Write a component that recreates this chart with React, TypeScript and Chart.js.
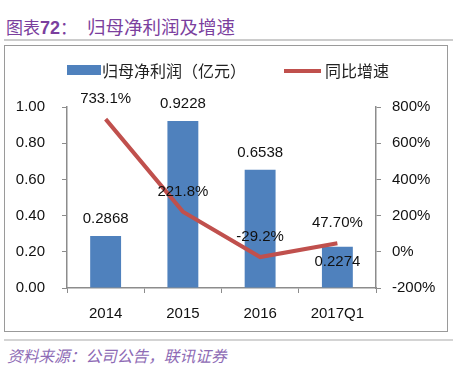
import React, { useEffect, useRef } from "react";
import { Chart, registerables } from "chart.js";

Chart.register(...registerables);

const categories = ["2014", "2015", "2016", "2017Q1"];
const profit = [0.2868, 0.9228, 0.6538, 0.2274];
const growth = [733.1, 221.8, -29.2, 47.7];
const profitLabels = ["0.2868", "0.9228", "0.6538", "0.2274"];
const growthLabels = ["733.1%", "221.8%", "-29.2%", "47.70%"];
const leftAxis = { min: 0, max: 1, step: 0.2 };
const rightAxis = { min: -200, max: 800, step: 200 };

const BAR_COLOR = "#4f81bd";
const LINE_COLOR = "#c0504d";
const AXIS_COLOR = "#8c8c8c";
const FONT = '"Liberation Sans", Arial, sans-serif';
const CJK = '"Noto Sans CJK SC", sans-serif';

const labelPlugin = {
  id: "valueLabels",
  afterDatasetsDraw(chart: any) {
    const ctx = chart.ctx;
    ctx.save();
    ctx.font = `15px ${FONT}`;
    ctx.fillStyle = "#111";
    ctx.textAlign = "center";
    ctx.textBaseline = "middle";
    const barMeta = chart.getDatasetMeta(0);
    barMeta.data.forEach((el: any, i: number) => {
      const inside = i === barMeta.data.length - 1;
      ctx.fillText(profitLabels[i], el.x, inside ? el.y + 15 : el.y - 17);
    });
    const lineMeta = chart.getDatasetMeta(1);
    lineMeta.data.forEach((el: any, i: number) => {
      ctx.fillText(growthLabels[i], el.x, el.y - 20);
    });
    ctx.restore();
  },
};

function ChartBox() {
  const ref = useRef<HTMLCanvasElement | null>(null);
  useEffect(() => {
    if (!ref.current) return;
    const chart = new Chart(ref.current, {
      type: "bar",
      data: {
        labels: categories,
        datasets: [
          {
            type: "bar",
            label: "归母净利润（亿元）",
            data: profit,
            backgroundColor: BAR_COLOR,
            yAxisID: "y",
            barPercentage: 0.8,
            categoryPercentage: 0.5,
            order: 1,
          },
          {
            type: "line",
            label: "同比增速",
            data: growth,
            borderColor: LINE_COLOR,
            backgroundColor: LINE_COLOR,
            borderWidth: 4,
            pointRadius: 0,
            tension: 0,
            yAxisID: "y1",
            order: 0,
          } as any,
        ],
      },
      options: {
        animation: false,
        responsive: false,
        maintainAspectRatio: false,
        layout: { padding: { top: 61, left: 0, right: 0, bottom: 0 } },
        plugins: {
          legend: { display: false },
          tooltip: { enabled: false },
          title: { display: false },
        },
        scales: {
          x: {
            grid: {
              display: true,
              drawOnChartArea: false,
              drawTicks: true,
              tickLength: 5,
              color: AXIS_COLOR,
              offset: true,
            },
            border: { display: true, color: AXIS_COLOR, width: 1.5 },
            ticks: { color: "#111", font: { size: 15, family: FONT }, padding: 12 },
            afterFit: (s: any) => {
              s.height = 43;
            },
          },
          y: {
            position: "left",
            min: leftAxis.min,
            max: leftAxis.max,
            grid: {
              display: true,
              drawOnChartArea: false,
              drawTicks: true,
              tickLength: 5,
              color: AXIS_COLOR,
            },
            border: { display: true, color: AXIS_COLOR, width: 1.5 },
            ticks: {
              stepSize: leftAxis.step,
              color: "#111",
              font: { size: 15, family: FONT },
              padding: 17,
              callback: (v: any) => Number(v).toFixed(2),
            },
            afterFit: (s: any) => {
              s.width = 62;
            },
          },
          y1: {
            position: "right",
            min: rightAxis.min,
            max: rightAxis.max,
            grid: {
              display: true,
              drawOnChartArea: false,
              drawTicks: true,
              tickLength: 5,
              color: AXIS_COLOR,
            },
            border: { display: true, color: AXIS_COLOR, width: 1.5 },
            ticks: {
              stepSize: rightAxis.step,
              color: "#111",
              font: { size: 15, family: FONT },
              padding: 11,
              callback: (v: any) => `${v}%`,
            },
            afterFit: (s: any) => {
              s.width = 71;
            },
          },
        },
      },
      plugins: [labelPlugin],
    });
    return () => chart.destroy();
  }, []);
  return <canvas ref={ref} width={442} height={285} style={{ display: "block", width: 442, height: 285 }} />;
}

export default function App() {
  return (
    <div
      style={{
        position: "absolute",
        left: 0,
        top: 0,
        width: 474,
        height: 373,
        background: "#fff",
        overflow: "hidden",
      }}
    >
      <div
        style={{
          position: "absolute",
          left: 6,
          top: 14,
          fontFamily: CJK,
          fontSize: 17,
          lineHeight: "24px",
          color: "#7b3f9e",
          whiteSpace: "nowrap",
        }}
      >
        <span>图表</span>
        <span style={{ fontFamily: FONT, fontWeight: "bold", fontSize: 18 }}>72</span>
        <span>：</span>
        <span style={{ marginLeft: 10, fontSize: 18.5 }}>归母净利润及增速</span>
      </div>
      <div style={{ position: "absolute", left: 4, top: 39, width: 449, height: 2, background: "#cccccc" }} />
      <div
        style={{
          position: "absolute",
          left: 4,
          top: 45,
          width: 442,
          height: 285,
          border: "1.5px solid #9a9a9a",
        }}
      >
        <ChartBox />
        <div style={{ position: "absolute", left: 62, top: 19, width: 34, height: 10, background: BAR_COLOR }} />
        <div
          style={{
            position: "absolute",
            left: 97,
            top: 12,
            fontFamily: CJK,
            fontSize: 16,
            lineHeight: "24px",
            color: "#222",
            whiteSpace: "nowrap",
          }}
        >
          归母净利润（亿元）
        </div>
        <div style={{ position: "absolute", left: 279, top: 23, width: 37, height: 4, background: LINE_COLOR }} />
        <div
          style={{
            position: "absolute",
            left: 320,
            top: 12,
            fontFamily: CJK,
            fontSize: 16,
            lineHeight: "24px",
            color: "#222",
            whiteSpace: "nowrap",
          }}
        >
          同比增速
        </div>
      </div>
      <div style={{ position: "absolute", left: 4, top: 339, width: 449, height: 2, background: "#d4d4d4" }} />
      <div
        style={{
          position: "absolute",
          left: 7,
          top: 345,
          fontFamily: CJK,
          fontSize: 15.7,
          lineHeight: "22px",
          fontStyle: "italic",
          color: "#8e6bb5",
          whiteSpace: "nowrap",
        }}
      >
        资料来源：公司公告，联讯证券
      </div>
    </div>
  );
}
